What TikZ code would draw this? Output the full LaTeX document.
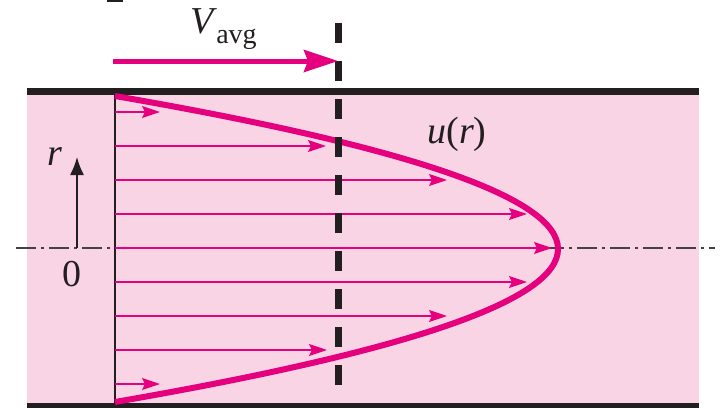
\documentclass[tikz,border=0pt]{standalone}
\usepackage{fontspec}
\setmainfont{Liberation Serif}
\usetikzlibrary{arrows.meta}
\definecolor{pipepink}{RGB}{248,212,228}
\definecolor{mag}{RGB}{229,0,126}
\definecolor{ink}{RGB}{35,31,32}
\tikzset{
  vel/.style={draw=mag, line width=0.75pt, -{Stealth[length=9pt,width=6pt,inset=1.5pt]}},
  wall/.style={fill=ink, draw=none},
  lbl/.style={font=\fontsize{19}{19}\selectfont, inner sep=0pt, text=ink},
}
\begin{document}
\begin{tikzpicture}[x=0.5pt,y=-0.5pt]
\useasboundingbox (0,0) rectangle (720,408);
% pipe interior
\fill[pipepink] (27,95) rectangle (699,403);
% walls
\fill[wall] (27,88) rectangle (699,95);
\fill[wall] (27,403) rectangle (699,408);
% small mark at top
\fill[ink] (107,0) rectangle (123,2);
% centerline
\coordinate (cl0) at (16,248);
\coordinate (cl1) at (715,248);
\draw[ink!85, line width=0.6pt, dash pattern=on 10pt off 2.5pt on 1.5pt off 2.5pt] (cl0) -- (cl1);
% inlet line
\coordinate (in0) at (115,95);
\coordinate (in1) at (115,403);
\draw[ink, line width=0.75pt] (in0) -- (in1);
% velocity arrows
\foreach \y/\t [count=\i] in {112/160,146/326,180/447,214/527,248/552,282/527,316/447,350/327,384/160}{
  \coordinate (a\i) at (115,\y);
  \coordinate (b\i) at (\t,\y);
  \draw[vel] (a\i) -- (b\i);
}
% parabolic profile
\coordinate (p0) at (115,96);
\coordinate (p1) at (115,402);
\draw[mag, line width=3pt] (p0) .. controls (705.7,198) and (705.7,300) .. (p1);
% average velocity dashed line
\coordinate (d0) at (339,23);
\coordinate (d1) at (339,392);
\draw[ink, line width=3.5pt, dash pattern=on 10pt off 9pt] (d0) -- (d1);
% Vavg arrow
\coordinate (v0) at (113,61);
\coordinate (v1) at (338,61);
\draw[mag, line width=2.5pt, -{Stealth[length=17pt,width=11pt,inset=2pt]}] (v0) -- (v1);
\node[lbl, anchor=base west] (vavg) at (190,33) {\textit{V}\kern-0.5pt\raisebox{-5pt}{\fontsize{14}{14}\selectfont avg}};
% r axis
\coordinate (r0) at (77,248);
\coordinate (r1) at (77,157);
\draw[ink, line width=0.8pt, -{Latex[length=9pt,width=7pt]}] (r0) -- (r1);
\node[lbl] (rlab) at (55,157) {\textit{r}};
\node[lbl] (zero) at (72,274) {0};
\node[lbl] (ur) at (457,134) {\textit{u}(\textit{r})};
\end{tikzpicture}
\end{document}
